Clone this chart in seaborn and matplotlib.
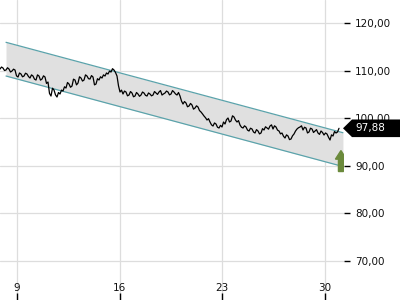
import numpy as np
import pandas as pd
import matplotlib
matplotlib.use("Agg")
import matplotlib.pyplot as plt
import matplotlib.dates as mdates
from matplotlib.patches import Polygon, FancyArrow
from matplotlib.transforms import blended_transform_factory
import seaborn as sns

# ---- data ----
price = [
    110.33, 110.75, 110.54, 110.02, 110.12, 110.60, 110.33, 109.70, 109.91, 110.30,
    110.12, 108.90, 108.65, 109.50, 109.28, 108.70, 108.86, 109.45, 109.28, 108.75,
    108.44, 109.10, 108.86, 108.20, 108.02, 109.10, 108.86, 108.00, 108.23, 108.90,
    108.65, 107.30, 107.60, 105.20, 104.66, 106.30, 105.92, 104.90, 104.45, 105.40,
    105.08, 105.90, 105.71, 106.60, 106.34, 107.50, 107.18, 106.50, 106.76, 108.20,
    108.02, 107.00, 107.39, 108.70, 108.44, 107.80, 108.02, 109.10, 108.86, 108.30,
    108.23, 108.95, 108.65, 107.00, 107.18, 108.30, 108.02, 108.70, 108.44, 109.10,
    108.86, 109.50, 109.28, 109.90, 109.70, 110.40, 110.12, 109.60, 108.86, 106.80,
    105.50, 105.90, 105.08, 105.70, 105.50, 104.70, 104.87, 105.60, 105.29, 104.50,
    104.66, 105.40, 105.08, 104.60, 104.87, 105.50, 105.29, 104.80, 104.66, 105.30,
    105.08, 104.70, 104.87, 105.60, 105.29, 105.00, 105.50, 105.80, 104.87, 105.10,
    105.29, 105.70, 105.50, 104.90, 105.08, 105.80, 105.50, 105.10, 104.87, 105.40,
    104.66, 103.60, 102.98, 103.50, 103.19, 102.40, 102.56, 103.10, 102.77, 101.90,
    102.14, 102.60, 102.35, 101.60, 101.30, 100.90, 100.46, 100.10, 99.62, 99.90,
    99.20, 98.60, 98.36, 99.00, 98.78, 98.10, 97.94, 98.50, 98.15, 99.20,
    98.78, 99.70, 100.04, 99.20, 99.41, 100.50, 100.25, 99.60, 99.20, 99.50,
    98.57, 98.10, 97.94, 98.40, 98.15, 97.50, 97.31, 97.90, 97.73, 97.10,
    96.89, 97.60, 97.31, 96.70, 96.89, 97.80, 97.52, 98.20, 97.94, 97.70,
    98.36, 98.60, 97.73, 98.40, 98.15, 97.50, 97.31, 96.70, 96.89, 96.20,
    95.84, 96.50, 96.26, 95.50, 95.63, 96.30, 96.68, 97.30, 97.73, 98.00,
    98.15, 98.40, 97.52, 98.10, 97.94, 96.90, 97.10, 97.90, 97.73, 97.00,
    97.31, 97.60, 96.89, 96.60, 97.31, 97.00, 96.47, 96.90, 96.68, 96.00,
    95.42, 96.50, 96.26, 97.20, 96.89, 97.10, 97.88,
]
price_start = "2023-10-07 20:10"
price_end = "2023-10-30 22:50"

channel_dates = ["2023-10-08 06:00", "2023-10-31 05:15"]
channel_upper = [115.94, 96.95]
channel_lower = [108.86, 89.85]

last_price = 97.88
last_label = "97,88"

x_tick_days = [9, 16, 23, 30]
y_ticks = [70, 80, 90, 100, 110, 120]

# ---- build frames ----
df = pd.DataFrame({
    "time": pd.date_range(price_start, price_end, periods=len(price)),
    "price": price,
})
ch = pd.DataFrame({
    "time": pd.to_datetime(channel_dates),
    "upper": channel_upper,
    "lower": channel_lower,
})

sns.set_theme(style="white")
plt.rcParams["font.family"] = ["DejaVu Sans"]

fig = plt.figure(figsize=(4, 3), dpi=100)
ax = fig.add_axes([0, 0, 0.86, 1])

# channel
ax.fill_between(ch["time"], ch["lower"], ch["upper"], color="#e0e0e0", lw=0, zorder=1)
sns.lineplot(data=ch, x="time", y="upper", ax=ax, color="#5ba3ab", lw=0.9, zorder=2)
sns.lineplot(data=ch, x="time", y="lower", ax=ax, color="#5ba3ab", lw=0.9, zorder=2)

# price
sns.lineplot(data=df, x="time", y="price", ax=ax, color="black", lw=0.9, zorder=3)

# axes limits
ax.set_xlim(pd.Timestamp("2023-10-07 20:10"), pd.Timestamp("2023-10-31 07:00"))
ax.set_ylim(61.81, 124.83)

# ticks
tick_dates = [pd.Timestamp(2023, 10, d) for d in x_tick_days]
ax.set_xticks(tick_dates)
ax.set_xticklabels([str(d) for d in x_tick_days])
ax.set_yticks(y_ticks)
ax.set_yticklabels([f"{v:.2f}".replace(".", ",") for v in y_ticks])
ax.yaxis.tick_right()
ax.tick_params(axis="y", direction="out", length=4, width=1, color="black",
               pad=4, labelsize=7.5, labelcolor="#111111", right=True, left=False)
ax.tick_params(axis="x", direction="in", length=5, width=1, color="black",
               pad=-12.5, labelsize=7.5, labelcolor="#111111", bottom=True)
ax.grid(True, color="#dddddd", lw=0.9)
ax.set_axisbelow(True)
for s in ax.spines.values():
    s.set_visible(False)
ax.set_xlabel("")
ax.set_ylabel("")

# green up arrow
ax_x = mdates.date2num(pd.Timestamp("2023-10-31 02:00"))
arr = FancyArrow(ax_x, 88.8, 0, 4.4, width=0.34, head_width=0.75, head_length=1.8,
                 length_includes_head=True, color="#6b8a3c", zorder=4)
ax.add_patch(arr)

# last-price tag
tr = blended_transform_factory(fig.transFigure, ax.transData)
h = 1.85
tag = Polygon([(343 / 400, last_price), (352 / 400, last_price + h), (1.0, last_price + h),
               (1.0, last_price - h), (352 / 400, last_price - h)],
              closed=True, transform=tr, facecolor="black", edgecolor="none",
              clip_on=False, zorder=5)
fig.add_artist(tag)
fig.text(355 / 400, last_price, last_label, transform=tr, color="white",
         fontsize=7.5, va="center", ha="left", zorder=6)

fig.savefig("out.png", dpi=100)
